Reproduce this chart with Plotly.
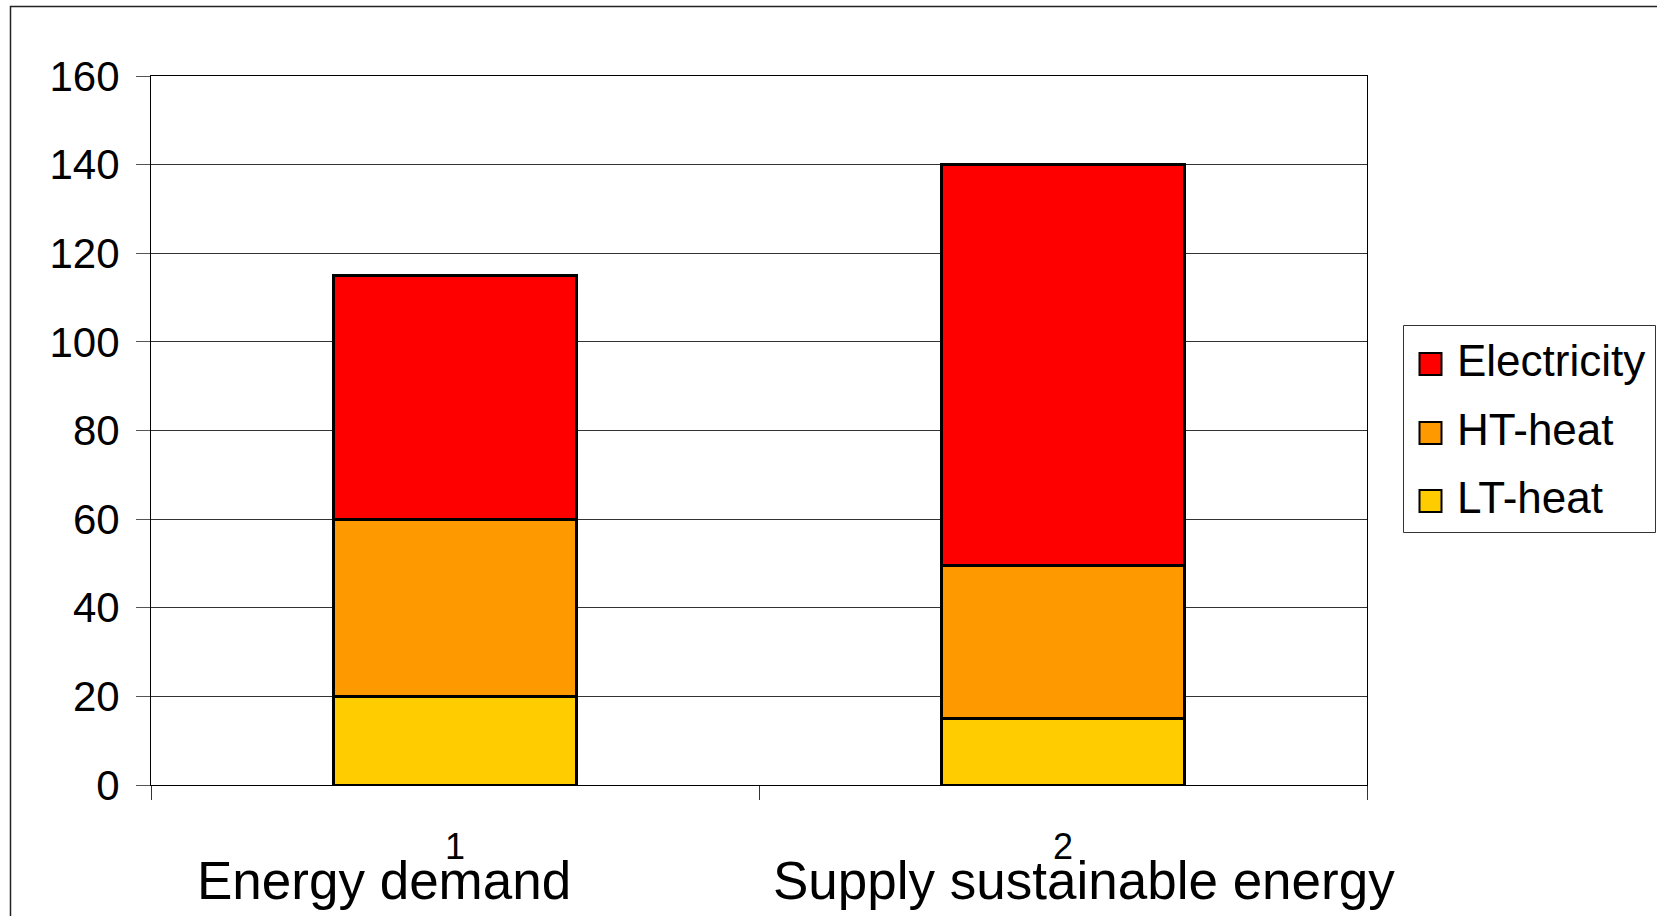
import plotly.graph_objects as go

# Data
categories = ["1", "2"]
category_titles = ["Energy demand", "Supply sustainable energy"]
series_names = ["LT-heat", "HT-heat", "Electricity"]
lt_heat = [20, 15]
ht_heat = [40, 34.5]
electricity = [55, 90.5]
y_ticks = [0, 20, 40, 60, 80, 100, 120, 140, 160]

series_values = {"LT-heat": lt_heat, "HT-heat": ht_heat, "Electricity": electricity}
colors = {"LT-heat": "#FFCC00", "HT-heat": "#FF9900", "Electricity": "#FF0000"}

FONT = "Liberation Sans, Arial, sans-serif"

# Figure / plot-area geometry in pixels
FIG_W, FIG_H = 1657, 916
L, T, PW, PH = 151, 76, 1216, 709
R = FIG_W - L - PW
B = FIG_H - T - PH


def px_x(px):
    return (px - L) / PW


def px_y(py):
    return (T + PH - py) / PH


fig = go.Figure()
for name in series_names:
    fig.add_bar(
        x=categories,
        y=series_values[name],
        name=name,
        showlegend=False,
        marker=dict(color=colors[name], line=dict(color="black", width=3)),
    )

fig.update_layout(
    barmode="stack",
    bargap=0.6,
    width=FIG_W,
    height=FIG_H,
    margin=dict(l=L, r=R, t=T, b=B, pad=0),
    plot_bgcolor="white",
    paper_bgcolor="white",
    font=dict(family=FONT, color="black"),
    showlegend=False,
)

fig.update_yaxes(
    range=[0, 160],
    tickvals=y_ticks,
    showgrid=True,
    gridcolor="#333333",
    gridwidth=1,
    zeroline=False,
    ticks="outside",
    ticklen=14,
    tickcolor="#555555",
    tickwidth=1,
    showline=True,
    linecolor="black",
    linewidth=1,
    mirror=True,
    tickfont=dict(size=42, family=FONT, color="black"),
    ticklabelstandoff=8,
)

fig.update_xaxes(
    type="category",
    tickson="boundaries",
    ticks="outside",
    ticklen=14,
    tickcolor="#333333",
    tickwidth=1,
    showgrid=False,
    showline=True,
    linecolor="black",
    linewidth=1,
    mirror=True,
    tickfont=dict(size=36, family=FONT, color="black"),
    ticklabelstandoff=30,
)

shapes = []
annotations = []

# Outer chart border (open towards the right and bottom edges)
shapes.append(dict(
    type="rect", xref="paper", yref="paper",
    x0=px_x(10.5), x1=px_x(1720), y0=px_y(980), y1=px_y(6.5),
    line=dict(color="#222222", width=1.5), fillcolor="rgba(0,0,0,0)",
))

# Category titles under the axis
title_centers = [384, 1084]
for title, cx in zip(category_titles, title_centers):
    annotations.append(dict(
        text=title, xref="paper", yref="paper",
        x=px_x(cx), y=px_y(880), xanchor="center", yanchor="middle",
        showarrow=False, font=dict(size=53, family=FONT, color="black"),
    ))

# Legend box
shapes.append(dict(
    type="rect", xref="paper", yref="paper",
    x0=px_x(1403.5), x1=px_x(1655.5), y0=px_y(532.5), y1=px_y(325.5),
    line=dict(color="#333333", width=1), fillcolor="white",
))
legend_rows = [364, 433, 501]
for name, cy in zip(list(reversed(series_names)), legend_rows):
    shapes.append(dict(
        type="rect", xref="paper", yref="paper",
        x0=px_x(1419.5), x1=px_x(1441.5), y0=px_y(cy + 11), y1=px_y(cy - 11),
        line=dict(color="black", width=2), fillcolor=colors[name],
    ))
    annotations.append(dict(
        text=name, xref="paper", yref="paper",
        x=px_x(1455), y=px_y(cy - 4), xanchor="left", yanchor="middle",
        showarrow=False, font=dict(size=44, family=FONT, color="black"),
    ))

fig.update_layout(shapes=shapes, annotations=annotations)

fig.write_html("out.html")
